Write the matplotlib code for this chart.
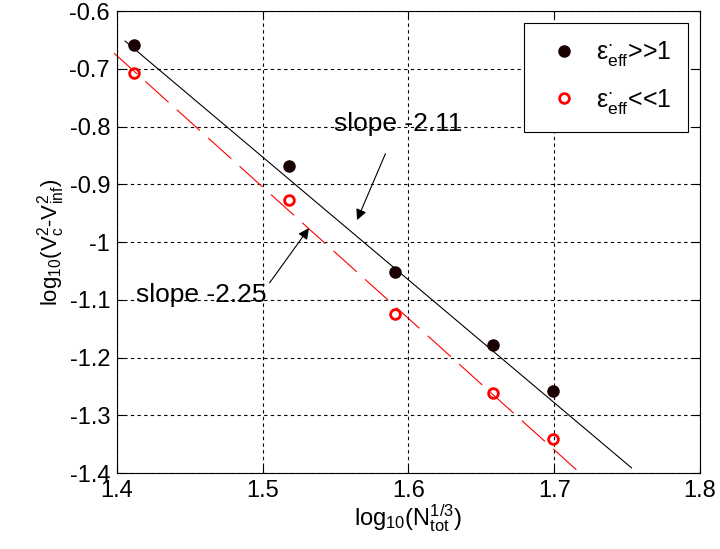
import matplotlib
matplotlib.use('Agg')
import matplotlib.pyplot as plt
from matplotlib.ticker import FormatStrFormatter

plt.rcParams['font.family'] = ['Liberation Sans', 'DejaVu Sans']
plt.rcParams['mathtext.fontset'] = 'custom'
plt.rcParams['mathtext.rm'] = 'Liberation Sans'
plt.rcParams['mathtext.it'] = 'Liberation Sans'
plt.rcParams['mathtext.default'] = 'regular'

# data points
x_pts = [1.412, 1.518, 1.591, 1.658, 1.699]
y_big = [-0.659, -0.868, -1.052, -1.178, -1.258]
y_small = [-0.707, -0.927, -1.124, -1.262, -1.341]

# fitted lines (end points)
fit_big_x = [1.4055, 1.753]
fit_big_y = [-0.652, -1.391]
fit_small_x = [1.398, 1.719]
fit_small_y = [-0.673, -1.403]

fig = plt.figure(figsize=(7.2, 5.49), dpi=100)
ax = fig.add_axes([0.1625, 0.1384, 0.8097, 0.8415])

ax.plot(fit_big_x, fit_big_y, color='black', lw=0.8)
red_line, = ax.plot(fit_small_x, fit_small_y, color='red', lw=0.8, clip_on=False)
red_line.set_dashes((28, 10))

ax.plot(x_pts, y_big, 'o', color='#1a0000', markersize=8, markeredgewidth=1,
        label=r'$\varepsilon^{\cdot}_{eff}$>>1')
ax.plot(x_pts, y_small, 'o', markerfacecolor='none', markeredgecolor='red',
        markersize=7, markeredgewidth=2, label=r'$\varepsilon^{\cdot}_{eff}$<<1')

ax.annotate('slope -2.11', xy=(1.5647, -0.962), xytext=(1.593, -0.795),
            fontsize=19, ha='center', va='center',
            arrowprops=dict(arrowstyle='-|>', color='black', lw=0.8,
                            mutation_scale=16, shrinkA=12, shrinkB=0))
ax.annotate('slope -2.25', xy=(1.5317, -0.976), xytext=(1.458, -1.092),
            fontsize=19, ha='center', va='center',
            arrowprops=dict(arrowstyle='-|>', color='black', lw=0.8,
                            mutation_scale=16, shrinkA=0, shrinkB=0,
                            relpos=(1.0, 0.85)))

ax.set_xlim(1.4, 1.8)
ax.set_ylim(-1.4, -0.6)
ax.set_xticks([1.4, 1.5, 1.6, 1.7, 1.8])
ax.set_yticks([-1.4, -1.3, -1.2, -1.1, -1.0, -0.9, -0.8, -0.7, -0.6])
ax.xaxis.set_major_formatter(FormatStrFormatter('%g'))
ax.yaxis.set_major_formatter(FormatStrFormatter('%g'))
ax.tick_params(direction='in', top=True, right=True, labelsize=17, length=5, pad=5)
ax.grid(True, color='black', linestyle=(0, (3, 3)), linewidth=0.8)
for s in ax.spines.values():
    s.set_linewidth(0.8)

ax.set_xlabel(r'log$_{10}$(N$_{tot}^{1/3}$)', fontsize=17, labelpad=0)
ax.set_ylabel(r'log$_{10}$(V$_c^2$-V$_{inf}^2$)', fontsize=16, labelpad=2)

leg = ax.legend(loc='upper right', bbox_to_anchor=(0.979, 0.974), fontsize=18,
                fancybox=False, edgecolor='black', framealpha=1,
                borderaxespad=0, borderpad=0.65, labelspacing=0.75,
                handletextpad=0.35, handlelength=1.9, numpoints=1)
leg.get_frame().set_linewidth(0.8)

fig.savefig('out.png', dpi=100)
